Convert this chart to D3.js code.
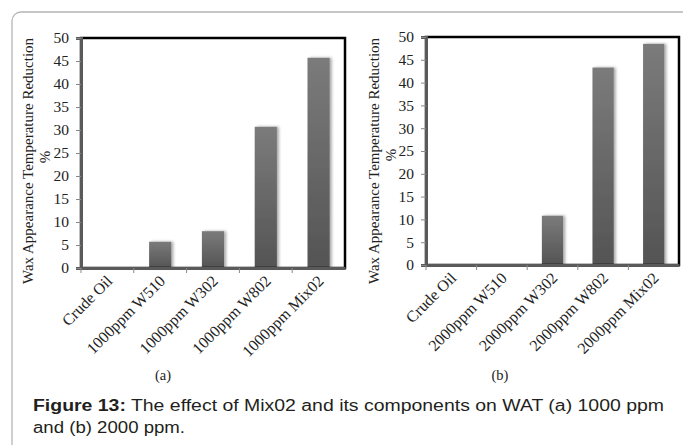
<!DOCTYPE html>
<html>
<head>
<meta charset="utf-8">
<script src="https://cdn.jsdelivr.net/npm/d3@7"></script>
<style>
  body { margin: 0; background: #fff; }
  svg { display: block; }
</style>
</head>
<body>
<svg width="683" height="445"></svg>
<script>
'use strict';

// values
const catsA = ["Crude Oil", "1000ppm W510", "1000ppm W302", "1000ppm W802", "1000ppm Mix02"];
const valsA = [0, 5.7, 8.0, 30.7, 45.7];
const catsB = ["Crude Oil", "2000ppm W510", "2000ppm W302", "2000ppm W802", "2000ppm Mix02"];
const valsB = [0, 0, 10.8, 43.3, 48.5];
const yTicks = [0, 5, 10, 15, 20, 25, 30, 35, 40, 45, 50];

const svg = d3.select("svg");
const serif = "'Liberation Serif', 'Times New Roman', serif";
const sans = "'Liberation Sans', Arial, sans-serif";

// outer frame
svg.append("rect")
    .attr("x", 12).attr("y", 12)
    .attr("width", 700).attr("height", 460)
    .attr("rx", 9)
    .attr("fill", "none")
    .attr("stroke", "#b5b5b5")
    .attr("stroke-width", 1.3);

const defs = svg.append("defs");
const grad = defs.append("linearGradient")
    .attr("id", "barGrad")
    .attr("x1", 0).attr("y1", 0).attr("x2", 0).attr("y2", 1);
grad.append("stop").attr("offset", "0%").attr("stop-color", "#7b7b7b");
grad.append("stop").attr("offset", "100%").attr("stop-color", "#545454");

const shadow = defs.append("filter").attr("id", "shadow")
    .attr("x", "-30%").attr("y", "-10%").attr("width", "160%").attr("height", "120%");
shadow.append("feGaussianBlur").attr("in", "SourceAlpha").attr("stdDeviation", 1.5).attr("result", "b");
shadow.append("feOffset").attr("in", "b").attr("dx", 2).attr("dy", 0).attr("result", "o");
shadow.append("feComponentTransfer").attr("in", "o").attr("result", "s")
    .append("feFuncA").attr("type", "linear").attr("slope", 0.35);
const merge = shadow.append("feMerge");
merge.append("feMergeNode").attr("in", "s");
merge.append("feMergeNode").attr("in", "SourceGraphic");

function drawChart(cats, vals, box, labelPos, caption) {
  const x = d3.scaleBand().domain(cats).range([box.left, box.right]).padding(0);
  const y = d3.scaleLinear().domain([0, 50]).range([box.bottom, box.top]);
  const g = svg.append("g");

  // bars
  const bw = x.bandwidth() * 0.42;
  g.selectAll(".bar")
    .data(vals)
    .enter().append("rect")
      .attr("class", "bar")
      .attr("x", (d, i) => x(cats[i]) + x.bandwidth() / 2 - bw / 2)
      .attr("y", d => y(d))
      .attr("width", bw)
      .attr("height", d => box.bottom - y(d))
      .attr("fill", "url(#barGrad)")
      .attr("filter", "url(#shadow)");

  // frame (top + right in black)
  g.append("rect")
    .attr("x", box.left).attr("y", box.top)
    .attr("width", box.right - box.left).attr("height", box.bottom - box.top)
    .attr("fill", "none").attr("stroke", "#000").attr("stroke-width", 2.5);

  // y axis
  const yAxis = g.append("g")
    .attr("transform", "translate(" + box.left + ",0)")
    .call(d3.axisLeft(y).tickValues(yTicks).tickSize(5).tickPadding(7));
  yAxis.select(".domain").attr("stroke", "#5a5a5a").attr("stroke-width", 3);
  yAxis.selectAll(".tick line").attr("stroke", "#888").attr("stroke-width", 1);
  yAxis.selectAll("text")
    .attr("font-family", serif).attr("font-size", 15.5).attr("fill", "#222");

  // x axis, ticks on category boundaries
  const xAxis = g.append("g")
    .attr("transform", "translate(0," + box.bottom + ")")
    .call(d3.axisBottom(x).tickSize(0).tickPadding(0));
  xAxis.select(".domain").attr("stroke", "#5a5a5a").attr("stroke-width", 3);
  xAxis.selectAll(".tick text")
    .attr("font-family", serif).attr("font-size", 16).attr("fill", "#222")
    .attr("text-anchor", "end")
    .attr("dy", 0)
    .attr("transform", "translate(6,14) rotate(-45)");
  g.selectAll(".btick")
    .data(cats)
    .enter().append("line")
      .attr("x1", d => x(d)).attr("x2", d => x(d))
      .attr("y1", box.bottom).attr("y2", box.bottom + 5)
      .attr("stroke", "#888").attr("stroke-width", 1);

  // y label
  g.append("text")
    .attr("transform", "translate(" + labelPos.x1 + "," + labelPos.cy + ") rotate(-90)")
    .attr("text-anchor", "middle")
    .attr("font-family", serif).attr("font-size", 15).attr("fill", "#222")
    .text("Wax Appearance Temperature Reduction");
  g.append("text")
    .attr("transform", "translate(" + labelPos.x2 + "," + labelPos.py + ") rotate(-90)")
    .attr("text-anchor", "middle")
    .attr("font-family", serif).attr("font-size", 15).attr("fill", "#222")
    .text("%");

  // sub caption
  g.append("text")
    .attr("x", caption.x).attr("y", caption.y)
    .attr("text-anchor", "middle")
    .attr("font-family", serif).attr("font-size", 14.5).attr("fill", "#222")
    .text(caption.text);
}

drawChart(catsA, valsA, {left: 81, right: 345, top: 38, bottom: 268},
  {x1: 33, x2: 50, cy: 161, py: 157}, {x: 163, y: 380, text: "(a)"});
drawChart(catsB, valsB, {left: 426, right: 679, top: 37, bottom: 265},
  {x1: 379, x2: 396, cy: 161, py: 155}, {x: 500, y: 380, text: "(b)"});

// figure caption
const cap1 = svg.append("text")
    .attr("x", 33).attr("y", 411)
    .attr("font-family", sans).attr("font-size", 16).attr("fill", "#231f20")
    .attr("textLength", 631).attr("lengthAdjust", "spacingAndGlyphs");
cap1.append("tspan").attr("font-weight", "bold").text("Figure 13:");
cap1.append("tspan").text(" The effect of Mix02 and its components on WAT (a) 1000 ppm");
svg.append("text")
    .attr("x", 33).attr("y", 433)
    .attr("font-family", sans).attr("font-size", 16).attr("fill", "#231f20")
    .attr("textLength", 152).attr("lengthAdjust", "spacingAndGlyphs")
    .text("and (b) 2000 ppm.");
</script>
</body>
</html>
